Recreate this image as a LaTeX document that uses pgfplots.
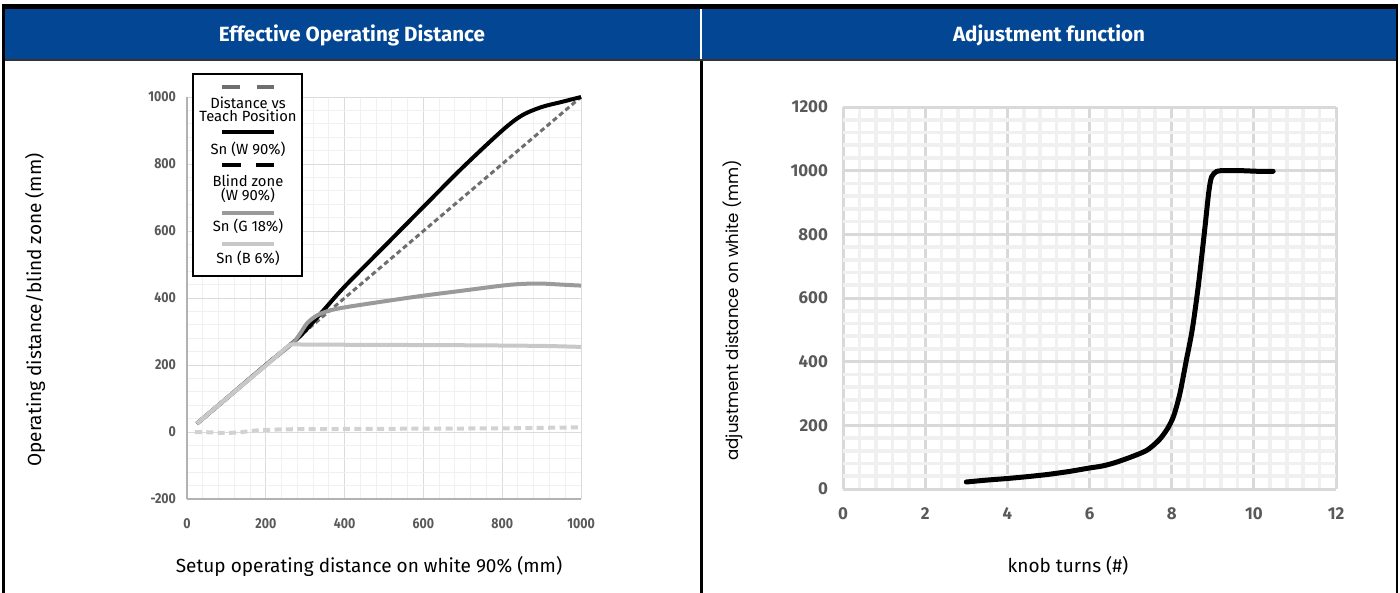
\documentclass[border=0pt]{standalone}
\usepackage{pgfplots}
\pgfplotsset{compat=1.18}
\usepackage{fontspec}
\setmainfont{Fira Sans}
\newfontfamily\headfont{Fira Sans}
\newfontfamily\tickfont[FakeStretch=0.98]{Fira Sans}
\newfontfamily\ltickfont[FakeStretch=0.86]{Fira Sans}
\newfontfamily\labfont{Fira Sans}
\newfontfamily\popfont{Poppins}

\definecolor{hdrblue}{RGB}{3,71,148}
\definecolor{tickgray}{RGB}{89,89,89}
\definecolor{distgray}{RGB}{110,110,110}
\definecolor{g18}{RGB}{154,154,154}
\definecolor{b6}{RGB}{200,200,200}
\definecolor{blindgray}{RGB}{210,210,210}

\begin{document}
\begin{tikzpicture}
\useasboundingbox (0,0) rectangle (700pt,-296.5pt);

% frame, pixel coordinates
\begin{scope}[x=0.5pt,y=-0.5pt]
  \fill[black] (2,4.5) rectangle (1398,9.5);
  \fill[hdrblue] (5,9.5) rectangle (1395.5,59);
  \fill[white] (700,9.5) rectangle (702,59);
  \fill[black!80] (2,59) rectangle (1398,61);
  \fill[black] (2,4.5) rectangle (5,593);
  \fill[black] (700,61) rectangle (702.5,593);
  \fill[black] (1395.5,4.5) rectangle (1398,593);
  \node[text=white,font={\headfont\bfseries\fontsize{10.3}{12}\selectfont}] at (352,35) {Effective Operating Distance};
  \node[text=white,font={\headfont\bfseries\fontsize{10.3}{12}\selectfont}] at (1049,35) {Adjustment function};
\end{scope}

% left chart
\begin{axis}[
  at={(93.5pt,-249.5pt)}, anchor=south west,
  scale only axis, width=197pt, height=201pt,
  xmin=0, xmax=1000, ymin=-200, ymax=1000,
  axis lines=left, axis line style={-, draw=black!30, line width=0.6pt},
  xtick={0,200,...,1000}, xticklabels={0,200,400,600,800,1000},
  ytick={-200,0,...,1000}, yticklabels={-200,0,200,400,600,800,1000},
  minor x tick num=4, minor y tick num=4,
  major tick length=0pt, minor tick length=0pt,
  grid=both,
  major grid style={draw=black!14, line width=0.5pt},
  minor grid style={draw=black!6, line width=0.5pt},
  tick label style={font={\ltickfont\bfseries\fontsize{7.2}{8}\selectfont}, text=tickgray},
  xticklabel style={yshift=-6pt},
  yticklabel style={xshift=-2pt},
  clip=false,
]
\addplot[distgray, line width=1.5pt, dash pattern=on 2.5pt off 1.6pt] coordinates {(25,25) (1000,1000)};
\addplot[blindgray, line width=2pt, dash pattern=on 3.5pt off 2.2pt, smooth] coordinates {
  (20,0) (60,-1) (100,-3) (140,0) (180,5) (250,8) (400,9) (600,10) (800,11) (1000,14)};
\addplot[black, line width=2pt, smooth, tension=0.5] coordinates {
  (25,25) (100,100) (200,200) (270,268) (300,302) (350,368) (400,434) (500,553)
  (600,672) (700,790) (800,900) (850,945) (900,970) (950,985) (1000,1000)};
\addplot[g18, line width=2pt, smooth, tension=0.5] coordinates {
  (25,25) (100,100) (200,200) (265,262) (285,290) (305,325) (330,348) (360,362)
  (400,372) (500,390) (600,407) (700,422) (800,437) (850,442) (900,443) (950,440) (1000,437)};
\addplot[b6, line width=2pt, smooth, tension=0.4] coordinates {
  (25,25) (100,100) (200,198) (255,255) (270,262) (300,261) (500,260) (700,259) (900,257) (1000,254)};
\end{axis}

% right chart
\begin{axis}[
  at={(421.5pt,-244.5pt)}, anchor=south west,
  scale only axis, width=246.5pt, height=191pt,
  xmin=0, xmax=12, ymin=0, ymax=1200,
  axis line style={draw=none},
  xtick={0,2,...,12}, xticklabels={0,2,4,6,8,10,12},
  ytick={0,200,...,1200}, yticklabels={0,200,400,600,800,1000,1200},
  minor x tick num=4, minor y tick num=4,
  major tick length=0pt, minor tick length=0pt,
  grid=both,
  major grid style={draw=black!15, line width=1.5pt},
  minor grid style={draw=black!6, line width=1.8pt},
  tick label style={font={\tickfont\bfseries\fontsize{8.6}{10}\selectfont}, text=tickgray},
  xticklabel style={yshift=-6pt},
  yticklabel style={xshift=-4pt},
  clip=false,
]
\addplot[black, line width=2.5pt, line cap=round, smooth, tension=0.45] coordinates {
  (3,22) (3.5,28) (4,33) (4.5,39) (5,46) (5.5,55) (6,66) (6.3,72) (6.6,82) (7,100)
  (7.4,122) (7.7,155) (7.9,190) (8.05,230) (8.2,300) (8.35,400) (8.5,500) (8.65,640)
  (8.8,810) (8.9,930) (8.97,980) (9.1,998) (9.3,1000) (9.7,1000) (10.1,998) (10.47,998)};
\end{axis}

% labels and legend, pixel coordinates
\begin{scope}[x=0.5pt,y=-0.5pt]
  \node[font={\labfont\fontsize{9.5}{11}\selectfont}] at (369,566) {Setup operating distance on white 90\% (mm)};
  \node[font={\labfont\fontsize{9.5}{11}\selectfont}, rotate=90] at (35,310) {Operating distance/blind zone (mm)};
  \node[font={\labfont\fontsize{9.5}{11}\selectfont}] at (1068,566) {knob turns (\#)};
  \node[font={\popfont\fontsize{8.3}{10}\selectfont}, rotate=90] at (733,310) {adjustment distance on white (mm)};
  % legend
  \fill[white] (193,74) rectangle (302,276);
  \draw[black, line width=1.3pt] (193,74) rectangle (302,276);
  \draw[distgray, line width=1.6pt, dash pattern=on 9pt off 8.5pt] (222,87) -- (274,87);
  \draw[black, line width=2pt] (222,132) -- (274,132);
  \draw[black, line width=2pt, dash pattern=on 9.5pt off 7.5pt] (222,165) -- (274,165);
  \draw[g18, line width=2pt] (222,213) -- (274,213);
  \draw[b6, line width=2pt] (222,244) -- (274,244);
  \begin{scope}[every node/.style={font={\labfont\fontsize{7.4}{8}\selectfont}, inner sep=0pt}]
    \node at (248,103) {Distance vs};
    \node at (248,116) {Teach Position};
    \node at (248,149) {Sn (W 90\%)};
    \node at (248,181) {Blind zone};
    \node at (248,195) {(W 90\%)};
    \node at (248,226) {Sn (G 18\%)};
    \node at (248,258) {Sn (B 6\%)};
  \end{scope}
\end{scope}
\end{tikzpicture}
\end{document}
